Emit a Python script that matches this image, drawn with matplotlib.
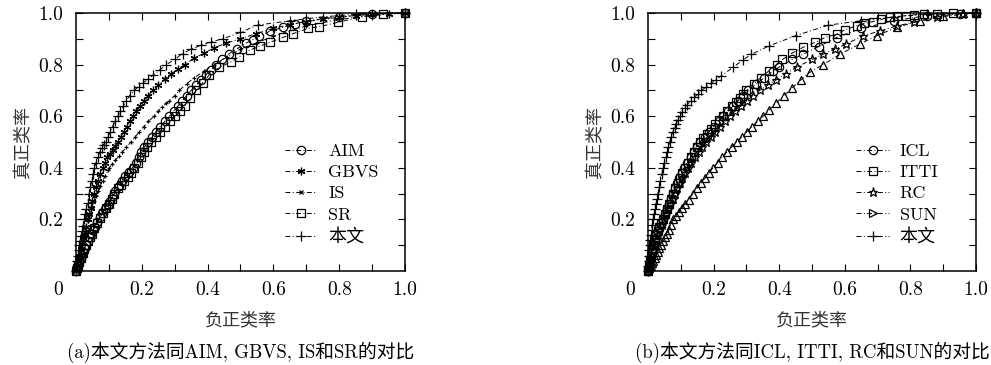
import matplotlib
matplotlib.use("Agg")
import matplotlib.pyplot as plt
from matplotlib.lines import Line2D

plt.rcParams['font.family'] = ['cmr10', 'Noto Sans CJK SC', 'DejaVu Sans']
plt.rcParams['axes.unicode_minus'] = False
plt.rcParams['axes.formatter.use_mathtext'] = True

# ---------------- data: panel (a) ----------------
ours_a_fpr = [0, 0.002, 0.004, 0.006, 0.008, 0.01, 0.012, 0.015, 0.018, 0.021, 0.025, 0.028, 0.031, 0.035, 0.04, 0.044, 0.048, 0.052, 0.056, 0.061, 0.066, 0.072, 0.078, 0.084, 0.09, 0.097, 0.104, 0.111, 0.119, 0.127, 0.135, 0.144, 0.153, 0.163, 0.177, 0.19, 0.205, 0.22, 0.235, 0.255, 0.275, 0.3, 0.324, 0.35, 0.38, 0.41, 0.446, 0.5, 0.552, 0.65, 0.75, 0.85, 1.0]
ours_a_tpr = [0, 0.02, 0.04, 0.06, 0.08, 0.1, 0.115, 0.135, 0.155, 0.175, 0.2, 0.22, 0.24, 0.265, 0.3, 0.325, 0.35, 0.375, 0.4, 0.42, 0.44, 0.46, 0.475, 0.49, 0.5, 0.52, 0.54, 0.56, 0.58, 0.6, 0.62, 0.64, 0.66, 0.68, 0.7, 0.715, 0.73, 0.745, 0.76, 0.78, 0.8, 0.82, 0.843, 0.86, 0.875, 0.888, 0.9, 0.925, 0.953, 0.97, 0.985, 0.995, 1.0]

gbvs_fpr = [0, 0.003, 0.006, 0.01, 0.014, 0.018, 0.022, 0.026, 0.03, 0.035, 0.04, 0.045, 0.05, 0.056, 0.062, 0.068, 0.074, 0.081, 0.088, 0.095, 0.103, 0.111, 0.119, 0.127, 0.136, 0.145, 0.154, 0.163, 0.172, 0.183, 0.195, 0.207, 0.22, 0.233, 0.25, 0.27, 0.29, 0.31, 0.33, 0.36, 0.39, 0.42, 0.456, 0.5, 0.547, 0.6, 0.65, 0.7, 0.75, 0.8, 0.85, 0.9, 0.95, 1.0]
gbvs_tpr = [0, 0.02, 0.04, 0.06, 0.085, 0.11, 0.13, 0.15, 0.17, 0.2, 0.22, 0.245, 0.27, 0.3, 0.325, 0.35, 0.375, 0.4, 0.42, 0.44, 0.455, 0.47, 0.485, 0.5, 0.52, 0.54, 0.56, 0.58, 0.6, 0.62, 0.64, 0.66, 0.68, 0.7, 0.72, 0.745, 0.765, 0.783, 0.8, 0.825, 0.845, 0.865, 0.883, 0.9, 0.92, 0.94, 0.955, 0.967, 0.975, 0.983, 0.99, 0.995, 0.998, 1.0]

is_fpr = [0, 0.004, 0.008, 0.012, 0.016, 0.02, 0.025, 0.03, 0.036, 0.042, 0.048, 0.054, 0.06, 0.067, 0.074, 0.081, 0.089, 0.097, 0.101, 0.11, 0.12, 0.13, 0.14, 0.153, 0.167, 0.18, 0.193, 0.206, 0.22, 0.238, 0.25, 0.262, 0.274, 0.284, 0.3, 0.314, 0.336, 0.36, 0.39, 0.42, 0.46, 0.5, 0.55, 0.6, 0.7, 0.8, 0.9, 1.0]
is_tpr = [0, 0.025, 0.05, 0.07, 0.09, 0.11, 0.14, 0.17, 0.195, 0.22, 0.245, 0.27, 0.29, 0.31, 0.33, 0.35, 0.37, 0.39, 0.4, 0.415, 0.43, 0.445, 0.46, 0.48, 0.5, 0.52, 0.54, 0.56, 0.58, 0.6, 0.62, 0.635, 0.65, 0.66, 0.68, 0.7, 0.725, 0.75, 0.775, 0.8, 0.83, 0.86, 0.885, 0.91, 0.95, 0.975, 0.99, 1.0]

aim_fpr = [0, 0.003, 0.006, 0.01, 0.014, 0.018, 0.022, 0.026, 0.03, 0.035, 0.04, 0.046, 0.052, 0.058, 0.065, 0.073, 0.08, 0.088, 0.096, 0.104, 0.112, 0.12, 0.13, 0.14, 0.15, 0.161, 0.172, 0.181, 0.19, 0.199, 0.208, 0.218, 0.23, 0.243, 0.256, 0.27, 0.284, 0.297, 0.31, 0.323, 0.336, 0.35, 0.365, 0.38, 0.395, 0.41, 0.426, 0.445, 0.466, 0.49, 0.517, 0.537, 0.557, 0.59, 0.63, 0.665, 0.7, 0.8, 0.9, 1.0]
aim_tpr = [0, 0.01, 0.02, 0.035, 0.05, 0.063, 0.075, 0.088, 0.1, 0.115, 0.13, 0.145, 0.16, 0.172, 0.19, 0.21, 0.225, 0.24, 0.255, 0.27, 0.29, 0.31, 0.33, 0.35, 0.37, 0.385, 0.4, 0.42, 0.44, 0.46, 0.48, 0.5, 0.52, 0.54, 0.56, 0.58, 0.6, 0.62, 0.64, 0.66, 0.68, 0.7, 0.72, 0.74, 0.76, 0.78, 0.8, 0.82, 0.843, 0.862, 0.883, 0.897, 0.91, 0.93, 0.945, 0.958, 0.97, 0.985, 0.995, 1.0]

sr_fpr = [0, 0.003, 0.006, 0.01, 0.015, 0.02, 0.025, 0.03, 0.036, 0.042, 0.048, 0.055, 0.063, 0.072, 0.081, 0.09, 0.099, 0.108, 0.117, 0.127, 0.137, 0.147, 0.157, 0.167, 0.177, 0.187, 0.197, 0.207, 0.217, 0.228, 0.242, 0.256, 0.27, 0.285, 0.3, 0.315, 0.33, 0.348, 0.365, 0.385, 0.405, 0.436, 0.47, 0.496, 0.53, 0.56, 0.589, 0.63, 0.66, 0.705, 0.74, 0.797, 0.868, 0.934, 1.0]
sr_tpr = [0, 0.01, 0.02, 0.035, 0.05, 0.068, 0.085, 0.1, 0.115, 0.13, 0.145, 0.165, 0.185, 0.205, 0.225, 0.245, 0.26, 0.28, 0.3, 0.32, 0.335, 0.35, 0.365, 0.38, 0.4, 0.42, 0.44, 0.46, 0.48, 0.5, 0.52, 0.54, 0.56, 0.58, 0.6, 0.62, 0.64, 0.67, 0.7, 0.73, 0.76, 0.79, 0.81, 0.83, 0.857, 0.872, 0.886, 0.906, 0.92, 0.94, 0.947, 0.964, 0.986, 0.996, 1.0]

# ---------------- data: panel (b) ----------------
ours_b_fpr = [0, 0.001, 0.002, 0.003, 0.004, 0.005, 0.007, 0.009, 0.011, 0.013, 0.015, 0.018, 0.021, 0.024, 0.027, 0.03, 0.034, 0.038, 0.042, 0.046, 0.05, 0.054, 0.058, 0.062, 0.066, 0.071, 0.076, 0.081, 0.086, 0.091, 0.097, 0.104, 0.112, 0.12, 0.13, 0.141, 0.152, 0.163, 0.178, 0.193, 0.208, 0.224, 0.26, 0.29, 0.315, 0.37, 0.45, 0.55, 0.65, 0.75, 0.85, 1.0]
ours_b_tpr = [0, 0.02, 0.04, 0.06, 0.08, 0.1, 0.12, 0.14, 0.16, 0.18, 0.2, 0.22, 0.24, 0.26, 0.28, 0.3, 0.325, 0.35, 0.375, 0.4, 0.42, 0.44, 0.46, 0.48, 0.5, 0.52, 0.54, 0.555, 0.57, 0.585, 0.6, 0.615, 0.63, 0.645, 0.66, 0.673, 0.686, 0.7, 0.714, 0.728, 0.742, 0.757, 0.79, 0.818, 0.84, 0.873, 0.912, 0.953, 0.97, 0.985, 0.995, 1.0]

icl_fpr = [0, 0.003, 0.006, 0.009, 0.012, 0.015, 0.02, 0.025, 0.03, 0.035, 0.04, 0.045, 0.051, 0.057, 0.063, 0.069, 0.075, 0.082, 0.089, 0.096, 0.103, 0.11, 0.12, 0.13, 0.14, 0.15, 0.16, 0.173, 0.187, 0.201, 0.215, 0.23, 0.245, 0.26, 0.275, 0.29, 0.305, 0.33, 0.355, 0.38, 0.4, 0.44, 0.473, 0.52, 0.575, 0.65, 0.75, 0.85, 0.95, 1.0]
icl_tpr = [0, 0.02, 0.04, 0.06, 0.08, 0.1, 0.12, 0.14, 0.155, 0.17, 0.185, 0.2, 0.22, 0.24, 0.26, 0.28, 0.3, 0.32, 0.34, 0.36, 0.38, 0.4, 0.42, 0.44, 0.46, 0.48, 0.5, 0.52, 0.54, 0.56, 0.58, 0.6, 0.62, 0.64, 0.66, 0.68, 0.7, 0.725, 0.75, 0.775, 0.79, 0.82, 0.84, 0.87, 0.905, 0.94, 0.97, 0.99, 0.998, 1.0]

itti_fpr = [0, 0.003, 0.006, 0.009, 0.012, 0.015, 0.02, 0.025, 0.03, 0.035, 0.04, 0.046, 0.052, 0.058, 0.064, 0.07, 0.076, 0.083, 0.09, 0.097, 0.104, 0.112, 0.121, 0.13, 0.139, 0.148, 0.158, 0.169, 0.18, 0.192, 0.205, 0.217, 0.229, 0.242, 0.255, 0.268, 0.28, 0.29, 0.3, 0.322, 0.345, 0.368, 0.392, 0.41, 0.44, 0.473, 0.509, 0.54, 0.575, 0.6, 0.636, 0.66, 0.687, 0.71, 0.737, 0.76, 0.788, 0.81, 0.84, 0.88, 0.93, 1.0]
itti_tpr = [0, 0.02, 0.04, 0.06, 0.08, 0.1, 0.12, 0.14, 0.155, 0.17, 0.185, 0.2, 0.22, 0.24, 0.26, 0.28, 0.3, 0.32, 0.34, 0.36, 0.38, 0.4, 0.42, 0.44, 0.46, 0.48, 0.5, 0.515, 0.53, 0.55, 0.57, 0.585, 0.6, 0.62, 0.64, 0.655, 0.67, 0.685, 0.7, 0.725, 0.75, 0.775, 0.8, 0.82, 0.845, 0.867, 0.886, 0.905, 0.918, 0.935, 0.95, 0.96, 0.967, 0.975, 0.983, 0.987, 0.99, 0.993, 0.996, 0.997, 0.999, 1.0]

rc_fpr = [0, 0.003, 0.007, 0.011, 0.014, 0.017, 0.023, 0.029, 0.035, 0.042, 0.049, 0.055, 0.062, 0.068, 0.075, 0.081, 0.089, 0.097, 0.105, 0.113, 0.122, 0.132, 0.143, 0.154, 0.166, 0.178, 0.191, 0.205, 0.219, 0.234, 0.249, 0.266, 0.284, 0.302, 0.32, 0.34, 0.365, 0.39, 0.42, 0.453, 0.5, 0.534, 0.57, 0.605, 0.656, 0.707, 0.758, 0.81, 0.88, 0.96, 1.0]
rc_tpr = [0, 0.02, 0.04, 0.06, 0.08, 0.1, 0.12, 0.14, 0.16, 0.18, 0.2, 0.22, 0.24, 0.26, 0.28, 0.3, 0.32, 0.34, 0.36, 0.38, 0.4, 0.42, 0.44, 0.46, 0.48, 0.5, 0.52, 0.54, 0.56, 0.58, 0.6, 0.62, 0.64, 0.66, 0.68, 0.7, 0.72, 0.74, 0.765, 0.79, 0.82, 0.84, 0.86, 0.88, 0.912, 0.93, 0.95, 0.964, 0.983, 0.996, 1.0]

sun_fpr = [0, 0.004, 0.008, 0.012, 0.016, 0.02, 0.025, 0.03, 0.035, 0.04, 0.046, 0.052, 0.058, 0.064, 0.07, 0.076, 0.085, 0.094, 0.103, 0.113, 0.124, 0.137, 0.149, 0.161, 0.174, 0.186, 0.198, 0.212, 0.226, 0.24, 0.255, 0.27, 0.286, 0.302, 0.318, 0.334, 0.351, 0.37, 0.39, 0.415, 0.44, 0.465, 0.493, 0.534, 0.585, 0.646, 0.697, 0.758, 0.829, 0.9, 0.96, 1.0]
sun_tpr = [0, 0.01, 0.02, 0.03, 0.04, 0.05, 0.062, 0.075, 0.088, 0.1, 0.115, 0.13, 0.145, 0.16, 0.18, 0.2, 0.215, 0.23, 0.245, 0.26, 0.275, 0.3, 0.32, 0.34, 0.36, 0.38, 0.4, 0.42, 0.44, 0.46, 0.48, 0.5, 0.52, 0.54, 0.56, 0.58, 0.6, 0.625, 0.65, 0.68, 0.71, 0.74, 0.77, 0.8, 0.84, 0.88, 0.912, 0.944, 0.97, 0.99, 0.999, 1.0]

major_ticks = [0.1, 0.2, 0.3, 0.4, 0.5, 0.6, 0.7, 0.8, 0.9, 1.0]
tick_labels = ['', '0.2', '', '0.4', '', '0.6', '', '0.8', '', '1.0']
xlabel = '负正类率'
ylabel = '真正类率'
captions = ['(a)本文方法同AIM, GBVS, IS和SR的对比', '(b)本文方法同ICL, ITTI, RC和SUN的对比']

LS = (0, (5, 2.5, 1, 2.5))

panel_a = [
    ('AIM', aim_fpr, aim_tpr, dict(marker='o', ms=6, plot_marker='o')),
    ('GBVS', gbvs_fpr, gbvs_tpr, dict(marker=(6, 2, 0), ms=5.5, plot_marker=(6, 2, 0))),
    ('IS', is_fpr, is_tpr, dict(marker='x', ms=3.5, plot_marker='+')),
    ('SR', sr_fpr, sr_tpr, dict(marker='s', ms=6, plot_marker='s')),
    ('本文', ours_a_fpr, ours_a_tpr, dict(marker='+', ms=7.5, plot_marker='+')),
]
panel_b = [
    ('ICL', icl_fpr, icl_tpr, dict(marker='o', ms=6, plot_marker='o')),
    ('ITTI', itti_fpr, itti_tpr, dict(marker='s', ms=6, plot_marker='s')),
    ('RC', rc_fpr, rc_tpr, dict(marker='*', ms=6.5, plot_marker='*')),
    ('SUN', sun_fpr, sun_tpr, dict(marker='>', ms=6, plot_marker='^')),
    ('本文', ours_b_fpr, ours_b_tpr, dict(marker='+', ms=7.5, plot_marker='+')),
]

fig = plt.figure(figsize=(9.91, 3.65), dpi=100)
W, H = 991.0, 365.0
axes_px = [(76, 405), (648, 976)]
top_px, bot_px = 13, 271

for (l, r), series, cap in zip(axes_px, [panel_a, panel_b], captions):
    ax = fig.add_axes([l / W, (H - bot_px) / H, (r - l) / W, (bot_px - top_px) / H])
    for name, xs, ys, st in series:
        ax.plot(xs, ys, color='black', lw=0.7, linestyle=LS,
                marker=st['plot_marker'], ms=st['ms'], mfc='none', mec='black', mew=0.9,
                clip_on=False)
    ax.set_xlim(0, 1)
    ax.set_ylim(0, 1)
    ax.set_xticks(major_ticks)
    ax.set_xticklabels(tick_labels)
    ax.set_yticks(major_ticks)
    ax.set_yticklabels(tick_labels)
    ax.tick_params(direction='in', length=5, width=0.8, top=True, right=True,
                   labelsize=14)
    ax.tick_params(axis='x', pad=7)
    ax.tick_params(axis='y', pad=9)
    for sp in ax.spines.values():
        sp.set_linewidth(1.1)
    ax.text(-0.055, -0.074, '0', transform=ax.transAxes, ha='center', va='center',
            fontsize=14)
    ax.set_xlabel(xlabel, fontsize=13, labelpad=9, color='#333333')
    ax.set_ylabel(ylabel, fontsize=13, labelpad=5, color='#333333')
    handles = [Line2D([0], [0], color='black', lw=0.7, linestyle=LS, marker=st['marker'],
                      ms=st['ms'], mfc='none', mec='black', mew=0.9)
               for name, xs, ys, st in series]
    ax.legend(handles, [s[0] for s in series], loc='upper left',
              bbox_to_anchor=(0.635, 0.495), frameon=False, fontsize=13,
              handlelength=1.8, handletextpad=0.6, labelspacing=0.31,
              borderpad=0, borderaxespad=0)
    cx = (l + r) / 2 / W
    fig.text(cx, 1 - 352 / H, cap, ha='center', va='center', fontsize=13.5)

fig.savefig('out.png', dpi=100)
